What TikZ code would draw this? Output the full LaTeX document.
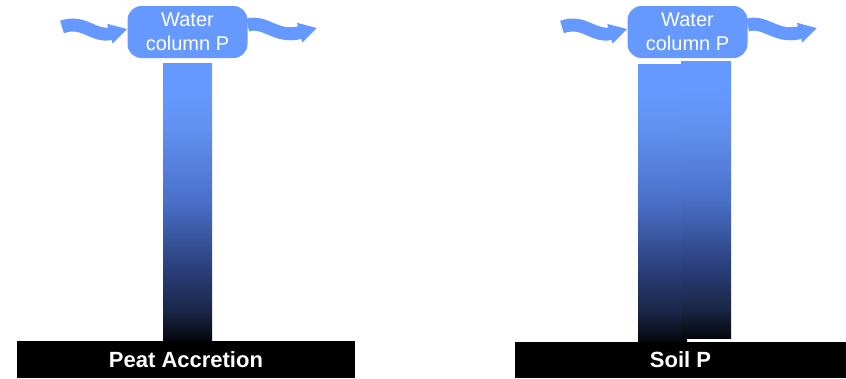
\documentclass[tikz,border=0pt]{standalone}
\usepackage{fontspec}
\setmainfont{Liberation Sans}
\usetikzlibrary{arrows.meta}
\definecolor{wblue}{HTML}{6699FF}
\definecolor{deep}{HTML}{05070D}
\definecolor{night}{HTML}{1A2848}
\definecolor{dusk}{HTML}{2A3D78}
\definecolor{dim}{HTML}{4A70C8}
\definecolor{pale}{HTML}{6090F0}
\pgfdeclareverticalshading{column}{100bp}{color(0bp)=(deep); color(25bp)=(deep); color(30.5bp)=(night); color(37.5bp)=(dusk); color(50bp)=(dim); color(63bp)=(pale); color(70bp)=(wblue); color(100bp)=(wblue)}

\begin{document}
\begin{tikzpicture}[x=1pt,y=-1pt,
    pool/.style={fill=wblue,rounded corners=14pt,minimum width=120pt,minimum height=52pt,inner sep=0pt,text=white,align=center,font=\fontsize{20}{24}\selectfont},
    col/.style={shading=column},
    flux/.style={wblue,line width=13pt,-{Triangle[length=18pt,width=19pt]}},
    base/.style={fill=black,text=white,inner sep=0pt,font=\fontsize{22}{26}\selectfont\bfseries}]
\useasboundingbox (0,0) rectangle (846,378);

% water column pools with in- and outflow
\foreach \dx/\nm in {0/L,500/R}
{
    \coordinate (in\nm) at (62+\dx,27);
    \coordinate (out\nm) at (317+\dx,28);
    \node[pool] (wc\nm) at (187.5+\dx,32) {Water\\column P};
    \draw[flux] (in\nm) .. controls (84+\dx,19) and (94+\dx,38) .. ([yshift=3pt]wc\nm.west);
    \draw[flux] ([yshift=7pt]wc\nm.east) .. controls (266+\dx,20) and (276+\dx,39) .. (out\nm);
}

% columns
\shade[col] (163,63) rectangle (212,340);
\shade[col] (638,64) rectangle (687,341);
\shade[col] (681,61) rectangle (731,338);

% bottom bars
\node[base,minimum width=338pt,minimum height=37pt] (barL) at (186,359.5) {Peat Accretion};
\node[base,minimum width=331pt,minimum height=36pt] (barR) at (680.5,360) {Soil P};

\end{tikzpicture}
\end{document}
